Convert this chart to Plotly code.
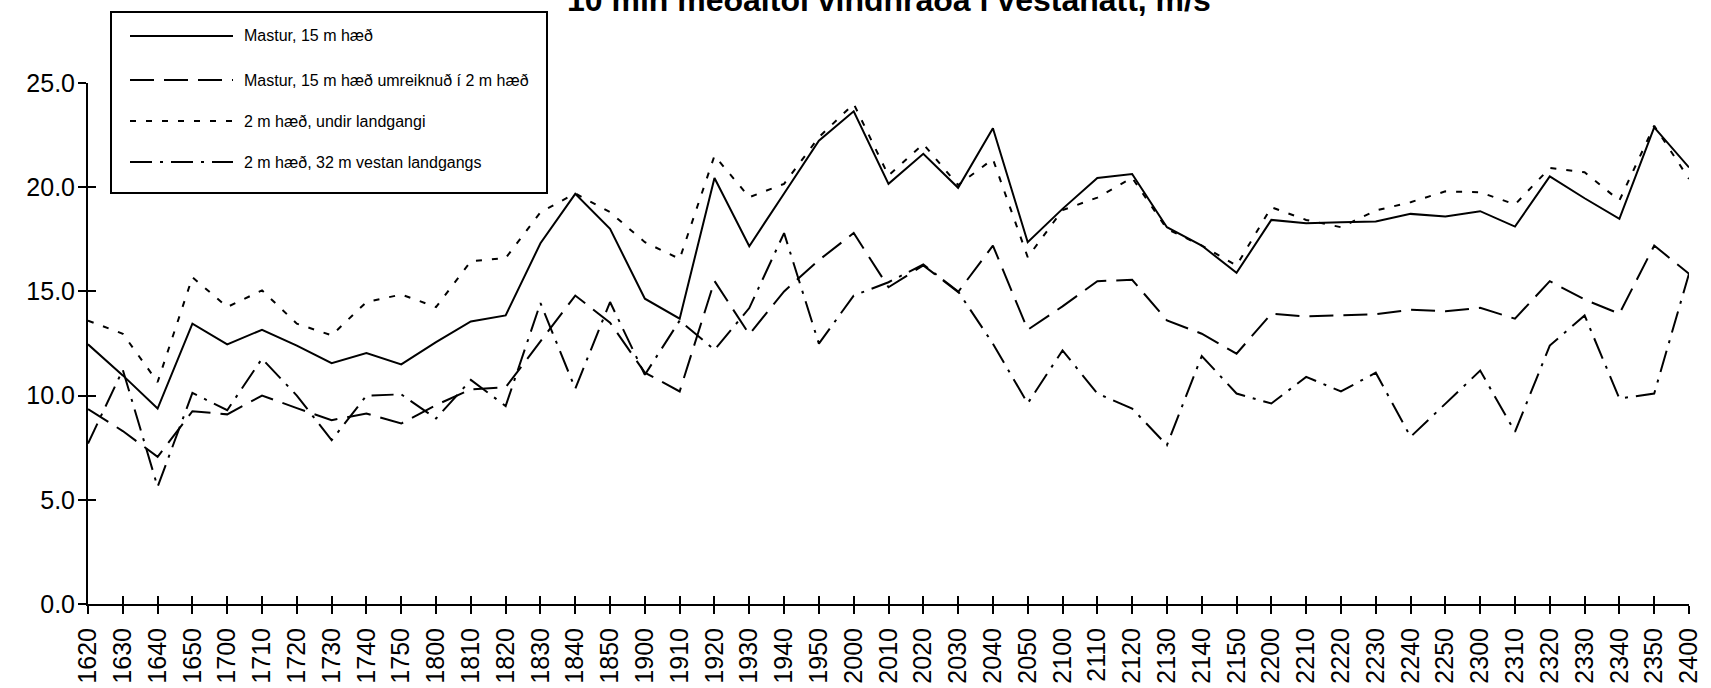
import plotly.graph_objects as go

times = ["1620","1630","1640","1650","1700","1710","1720","1730","1740","1750",
         "1800","1810","1820","1830","1840","1850","1900","1910","1920","1930",
         "1940","1950","2000","2010","2020","2030","2040","2050","2100","2110",
         "2120","2130","2140","2150","2200","2210","2220","2230","2240","2250",
         "2300","2310","2320","2330","2340","2350","2400"]

mastur_15m = [12.46, 10.97, 9.38, 13.45, 12.46, 13.16, 12.4, 11.56, 12.04, 11.5,
              12.57, 13.56, 13.85, 17.31, 19.68, 18.0, 14.65, 13.69, 20.44, 17.17,
              19.7, 22.23, 23.64, 20.16, 21.6, 19.97, 22.83, 17.36, 18.96, 20.44,
              20.63, 18.08, 17.2, 15.89, 18.43, 18.27, 18.32, 18.35, 18.72, 18.59,
              18.85, 18.11, 20.52, 19.47, 18.48, 22.87, 20.95]

mastur_2m = [9.35, 8.3, 7.06, 9.25, 9.1, 10.0, 9.4, 8.82, 9.14, 8.66,
             9.55, 10.3, 10.4, 12.6, 14.8, 13.5, 11.1, 10.2, 15.5, 12.94,
             15.0, 16.5, 17.8, 15.2, 16.25, 14.97, 17.2, 13.16, 14.28, 15.49,
             15.56, 13.61, 12.97, 12.01, 13.93, 13.8, 13.85, 13.9, 14.12, 14.05,
             14.21, 13.69, 15.49, 14.61, 13.93, 17.2, 15.85]

undir_landgangi = [13.6, 12.97, 10.65, 15.68, 14.25, 15.05, 13.45, 12.89, 14.49, 14.85,
                   14.25, 16.45, 16.6, 18.8, 19.7, 18.8, 17.36, 16.56, 21.51, 19.52,
                   20.16, 22.4, 24.0, 20.56, 22.07, 20.1, 21.35, 16.64, 18.9, 19.5,
                   20.45, 18.0, 17.2, 16.24, 19.04, 18.43, 18.08, 18.88, 19.28, 19.8,
                   19.76, 19.17, 20.92, 20.72, 19.36, 22.95, 20.4]

vestan_landgangs = [7.7, 11.24, 5.62, 10.13, 9.3, 11.77, 10.0, 7.86, 10.0, 10.06,
                    8.9, 10.75, 9.5, 14.44, 10.33, 14.49, 11.0, 13.6, 12.2, 14.2,
                    17.8, 12.49, 14.8, 15.44, 16.29, 15.0, 12.49, 9.63, 12.17, 10.1,
                    9.38, 7.62, 11.9, 10.1, 9.62, 10.9, 10.2, 11.1, 8.02, 9.62,
                    11.2, 8.26, 12.4, 13.85, 9.86, 10.1, 15.85]

series_names = ["Mastur, 15 m hæð",
                "Mastur, 15 m hæð umreiknuð í 2 m hæð",
                "2 m hæð, undir landgangi",
                "2 m hæð, 32 m vestan landgangs"]
series_values = [mastur_15m, mastur_2m, undir_landgangi, vestan_landgangs]
dashes = ["solid", "24px,10px", "6px,10px", "22px,8px,3px,8px"]

y_ticks = [0, 5, 10, 15, 20, 25]
title_text = "10 mín meðaltöl vindhraða í vestanátt, m/s"
FONT = "Liberation Sans, Arial, Helvetica, sans-serif"

fig = go.Figure()
for name, vals, dash in zip(series_names, series_values, dashes):
    fig.add_trace(go.Scatter(x=times, y=vals, mode="lines", name=name,
                             line=dict(color="black", width=2, dash=dash),
                             showlegend=False))

# invisible helper trace so overlaid axes draw inward tick marks (crossing ticks)
fig.add_trace(go.Scatter(x=times, y=mastur_15m, xaxis="x2", yaxis="y2", mode="lines",
                         line=dict(width=0), opacity=0, showlegend=False, hoverinfo="skip"))

# plot area in pixels
L, R, T, B = 88, 1689, 83, 604
def px(X):
    return (X - L) / (R - L)
def py(Y):
    return (B - Y) / (B - T)

shapes = [dict(type="rect", xref="paper", yref="paper",
               x0=px(111), x1=px(547), y0=py(193), y1=py(12),
               line=dict(color="black", width=2), fillcolor="white", layer="above")]
annotations = []
rows_y = [36, 80, 121, 162]
for name, dash, ry in zip(series_names, dashes, rows_y):
    shapes.append(dict(type="line", xref="paper", yref="paper",
                       x0=px(130), x1=px(233), y0=py(ry), y1=py(ry),
                       line=dict(color="black", width=2, dash=dash), layer="above"))
    annotations.append(dict(text=name, xref="paper", yref="paper", x=px(242), y=py(ry),
                            xanchor="left", yanchor="middle", showarrow=False,
                            font=dict(family=FONT, size=16, color="black")))

annotations.append(dict(text="<b>" + title_text + "</b>", xref="paper", yref="paper",
                        x=0.5, y=py(20), xanchor="center", yanchor="bottom",
                        showarrow=False, font=dict(family=FONT, size=32, color="black")))

fig.update_layout(
    width=1711, height=688, autosize=False,
    margin=dict(l=L, r=1711 - R, t=T, b=688 - B, autoexpand=False),
    paper_bgcolor="white", plot_bgcolor="white",
    showlegend=False,
    font=dict(family=FONT, color="black"),
    xaxis=dict(type="category", categoryorder="array", categoryarray=times,
               range=[0, len(times) - 1], showline=True, linecolor="black", linewidth=2,
               ticks="outside", ticklen=8, tickwidth=1.5, tickcolor="black",
               tickangle=-90, tickfont=dict(family=FONT, size=25, color="black"),
               showgrid=False, zeroline=False, ticklabelstandoff=4, automargin=False),
    yaxis=dict(range=[0, 25], tickvals=y_ticks, tickformat=".1f",
               showline=True, linecolor="black", linewidth=2,
               ticks="outside", ticklen=8, tickwidth=1.5, tickcolor="black",
               tickfont=dict(family=FONT, size=25, color="black"),
               showgrid=False, zeroline=False, ticklabelstandoff=-2, automargin=False),
    xaxis2=dict(type="category", categoryorder="array", categoryarray=times,
                range=[0, len(times) - 1], overlaying="x", anchor="y2", side="bottom",
                ticks="inside", ticklen=8, tickwidth=1.5, tickcolor="black",
                showticklabels=False, showline=False, showgrid=False, zeroline=False,
                automargin=False),
    yaxis2=dict(range=[0, 25], tickvals=y_ticks, overlaying="y", anchor="x2", side="left",
                ticks="inside", ticklen=8, tickwidth=1.5, tickcolor="black",
                showticklabels=False, showline=False, showgrid=False, zeroline=False,
                automargin=False),
    shapes=shapes, annotations=annotations,
)

# remove the browser's default 8px body margin so the figure sits at the page origin
fig.write_html("out.html",
               config={"displayModeBar": False},
               post_script="document.body.style.margin='0';document.body.style.overflow='hidden';")
